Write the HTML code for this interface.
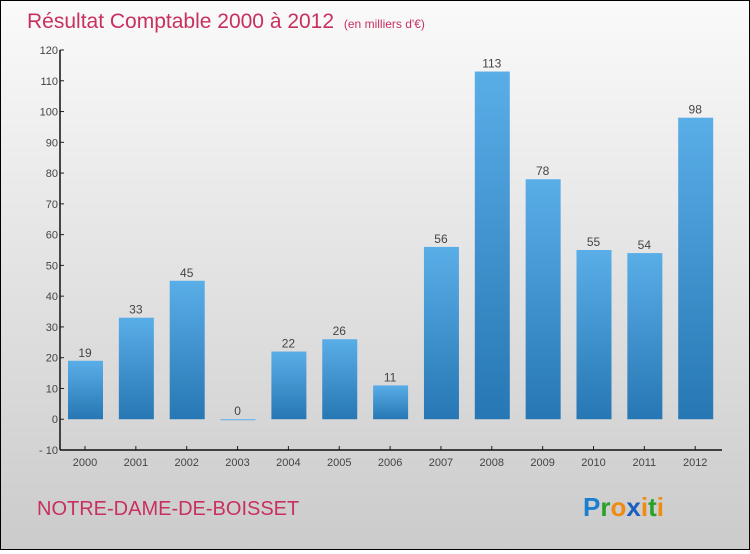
<!DOCTYPE html>
<html><head><meta charset="utf-8"><style>
body{margin:0;width:750px;height:550px;overflow:hidden}
#c{position:absolute;left:0;top:0;width:748px;height:548px;border:1px solid #000;background:linear-gradient(#fafafa,#cbcbcb)}
text{font-family:"Liberation Sans",sans-serif}
</style></head><body>
<div id="c">
<svg width="748" height="548" id="svg">
<defs><linearGradient id="g" x1="0" y1="0" x2="0" y2="1"><stop offset="0" stop-color="#5aaee8"/><stop offset="1" stop-color="#2677b3"/></linearGradient></defs>
<text x="26" y="27" font-size="21" fill="#c8305e">Résultat Comptable 2000 à 2012 <tspan font-size="12" dx="4">(en milliers d'€)</tspan></text>
<text x="36" y="514" font-size="20" fill="#c8305e">NOTRE-DAME-DE-BOISSET</text>
<text x="582" y="515" font-size="26" font-weight="bold"><tspan fill="#1a7fd0">P</tspan><tspan fill="#2aa02a">r</tspan><tspan fill="#f08a10">o</tspan><tspan fill="#1a5fc0">x</tspan><tspan fill="#f08a10">i</tspan><tspan fill="#2aa02a">t</tspan><tspan fill="#f08a10">i</tspan></text>
<g id="plot"></g>
</svg></div>
<script>
const years=["2000","2001","2002","2003","2004","2005","2006","2007","2008","2009","2010","2011","2012"];
const values=[19,33,45,0,22,26,11,56,113,78,55,54,98];
const yTicks=[-10,0,10,20,30,40,50,60,70,80,90,100,110,120];
const NS="http://www.w3.org/2000/svg";
const g=document.getElementById('plot');
const x0=59,x1=721;
function y(v){return 449-(v+10)*400/130;}
function xc(i){return 84+i*50.85;}
function mk(t,a){const e=document.createElementNS(NS,t);for(const k in a)e.setAttribute(k,a[k]);g.appendChild(e);return e;}
yTicks.forEach(v=>{
 const l=mk('line',{x1:x0,x2:x0+4,y1:y(v),y2:y(v),stroke:'#222'});
 
 
 const t=mk('text',{x:x0-2,y:y(v)+4,'font-size':11,'text-anchor':'end',fill:'#444'});
 t.textContent=v===-10?'- 10':v;
 
 
});
years.forEach((yr,i)=>{
 const v=values[i],cx=xc(i),top=y(Math.max(v,0)),bot=y(0);
 const b=mk('rect',{x:cx-17,y:top,width:35,height:Math.max(bot-top,1),fill:v===0?'#5aaee8':'url(#g)'});
 
 
 const lb=mk('text',{x:cx,y:top-4,'font-size':12,'text-anchor':'middle',fill:'#444'});
 lb.textContent=v;
 
 
 const tk=mk('line',{x1:cx,x2:cx,y1:y(-10)-4,y2:y(-10),stroke:'#222'});
 
 
 const xt=mk('text',{x:cx,y:y(-10)+16,'font-size':11,'text-anchor':'middle',fill:'#444'});
 xt.textContent=yr;
 
 
});
const ya=mk('line',{x1:x0,x2:x0,y1:y(120),y2:y(-10),stroke:'#111','stroke-width':1.5});


const xa=mk('line',{x1:x0,x2:x1,y1:y(-10),y2:y(-10),stroke:'#111','stroke-width':1.5});


</script>
</body></html>
